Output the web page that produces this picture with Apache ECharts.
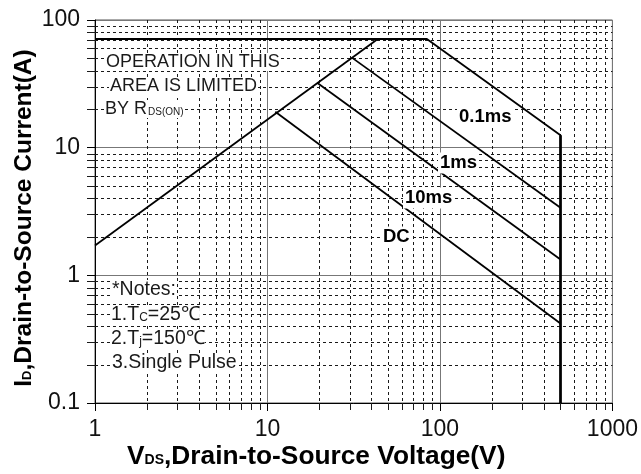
<!DOCTYPE html>
<html><head><meta charset="utf-8">
<script src="https://cdn.jsdelivr.net/npm/echarts@6/dist/echarts.min.js"></script>
<style>html,body{margin:0;padding:0;background:#fff}#c{width:641px;height:474px}</style>
</head><body><div id="c"></div>
<script>
// ---- data ----
const xTickValues = [1, 10, 100, 1000];
const xTickLabels = ['1', '10', '100', '1000'];
const yTickValues = [0.1, 1, 10, 100];
const yTickLabels = ['0.1', '1', '10', '100'];
const minorMultipliers = [2, 3, 4, 5, 6, 7, 8, 9];
const limitLine = [[1, 71], [84, 71], [500, 12.5], [500, 0.1]];   // Id limit + 0.1ms + Vds limit
const rdsLine = [[1, 1.71], [43.6, 71]];
const line1ms = [[31, 50.5], [500, 3.38]];
const line10ms = [[19.4, 32.2], [500, 1.33]];
const lineDC = [[11.1, 19.1], [500, 0.42]];
const vdsLimit = [[500, 12.5], [500, 0.1]];

const FONT = '"Liberation Sans", Arial, sans-serif';

function minorValues(ticks) {
  const out = [];
  for (let i = 0; i < ticks.length - 1; i++) {
    minorMultipliers.forEach(m => out.push(ticks[i] * m));
  }
  return out;
}
const xMinor = minorValues(xTickValues);
const yMinor = minorValues(yTickValues);

function px(v) { return Math.round(v) + 0.5; }

function renderMinor(params, api) {
  const xL = api.coord([xTickValues[0], 1])[0];
  const xR = api.coord([xTickValues[xTickValues.length - 1], 1])[0];
  const yB = api.coord([1, yTickValues[0]])[1];
  const yT = api.coord([1, yTickValues[yTickValues.length - 1]])[1];
  const ch = [];
  const dash = { stroke: '#1a1a1a', lineWidth: 1, lineDash: [3, 3] };
  const tk = { stroke: '#1a1a1a', lineWidth: 1 };
  xMinor.forEach(v => {
    const x = px(api.coord([v, 1])[0]);
    ch.push({ type: 'line', shape: { x1: x, y1: yT, x2: x, y2: yB }, style: dash });
    ch.push({ type: 'line', shape: { x1: x, y1: yB, x2: x, y2: yB + 7 }, style: tk });
  });
  yMinor.forEach(v => {
    const y = px(api.coord([1, v])[1]);
    ch.push({ type: 'line', shape: { x1: xL, y1: y, x2: xR, y2: y }, style: dash });
    ch.push({ type: 'line', shape: { x1: xL - 8, y1: y, x2: xL, y2: y }, style: tk });
  });
  return { type: 'group', children: ch };
}

function lineSeries(data, w) {
  return {
    type: 'line', data: data, showSymbol: false, symbol: 'none', z: 5,
    lineStyle: { color: '#000', width: w || 1.8 }, animation: false, clip: false
  };
}

const chart = echarts.init(document.getElementById('c'), null, { renderer: 'canvas' });
const msStyle = { font: 'bold 18.5px ' + FONT, fill: '#000', backgroundColor: '#fff', padding: [1, 2] };
const opStyle = { font: '18px ' + FONT, fill: '#1a1a1a', backgroundColor: '#fff', padding: [0, 1] };
const noteStyle = { font: '19.5px ' + FONT, fill: '#1a1a1a', backgroundColor: '#fff', padding: [0, 1] };

chart.setOption({
  animation: false,
  backgroundColor: '#fff',
  grid: { left: 95, right: 25, top: 20, bottom: 71, show: true, borderColor: '#555', borderWidth: 1, containLabel: false },
  xAxis: {
    type: 'log', logBase: 10, min: 1, max: 1000,
    axisLine: { show: true, onZero: false, lineStyle: { color: '#000', width: 1 } },
    axisTick: { show: true, inside: false, length: 8, lineStyle: { color: '#000' } },
    axisLabel: { margin: 15, color: '#111', fontSize: 23, fontFamily: FONT,
      formatter: v => { const i = xTickValues.findIndex(t => Math.abs(t - v) / t < 1e-6); return i >= 0 ? xTickLabels[i] : ''; } },
    splitLine: { show: true, lineStyle: { color: '#777', width: 1 } }
  },
  yAxis: {
    type: 'log', logBase: 10, min: 0.1, max: 100,
    axisLine: { show: true, onZero: false, lineStyle: { color: '#000', width: 1 } },
    axisTick: { show: true, inside: false, length: 8, lineStyle: { color: '#000' } },
    axisLabel: { margin: 15, color: '#111', fontSize: 23, fontFamily: FONT,
      formatter: v => { const i = yTickValues.findIndex(t => Math.abs(t - v) / t < 1e-6); return i >= 0 ? yTickLabels[i] : ''; } },
    splitLine: { show: true, lineStyle: { color: '#777', width: 1 } }
  },
  series: [
    { type: 'custom', renderItem: renderMinor, data: [[1, 1]], z: 1, silent: true, clip: false, animation: false },
    lineSeries(limitLine, 1.8),
    lineSeries(rdsLine, 1.8),
    lineSeries(line1ms, 1.8),
    lineSeries(line10ms, 1.8),
    lineSeries(lineDC, 1.8),
    lineSeries(vdsLimit, 2.6)
  ],
  graphic: [
    { type: 'text', x: 105, y: 62, z: 10, style: Object.assign({ text: 'OPERATION IN THIS', verticalAlign: 'middle' }, opStyle) },
    { type: 'text', x: 109, y: 86, z: 10, style: Object.assign({ text: 'AREA IS LIMITED', verticalAlign: 'middle' }, opStyle) },
    { type: 'text', x: 105, y: 109, z: 10, style: {
        text: '{n|BY R}{s|DS(ON)}', verticalAlign: 'middle', backgroundColor: '#fff',
        rich: { n: { font: '18px ' + FONT, fill: '#1a1a1a' }, s: { font: '10px ' + FONT, fill: '#1a1a1a', padding: [6, 0, 0, 1] } } } },
    { type: 'text', x: 457, y: 117, z: 10, style: Object.assign({ text: '0.1ms', verticalAlign: 'middle' }, msStyle) },
    { type: 'text', x: 438, y: 163, z: 10, style: Object.assign({ text: '1ms', verticalAlign: 'middle' }, msStyle) },
    { type: 'text', x: 403, y: 198, z: 10, style: Object.assign({ text: '10ms', verticalAlign: 'middle' }, msStyle) },
    { type: 'text', x: 381, y: 237, z: 10, style: Object.assign({ text: 'DC', verticalAlign: 'middle' }, msStyle) },
    { type: 'text', x: 111, y: 290, z: 10, style: Object.assign({ text: '*Notes:', verticalAlign: 'middle' }, noteStyle) },
    { type: 'text', x: 111, y: 315, z: 10, style: {
        text: '{n|1.T}{s|C}{n|=25℃}', verticalAlign: 'middle', backgroundColor: '#fff',
        rich: { n: { font: '19.5px ' + FONT, fill: '#1a1a1a' }, s: { font: '12px ' + FONT, fill: '#1a1a1a', padding: [6, 0, 0, 0] } } } },
    { type: 'text', x: 111, y: 339, z: 10, style: {
        text: '{n|2.T}{s|j}{n|=150℃}', verticalAlign: 'middle', backgroundColor: '#fff',
        rich: { n: { font: '19.5px ' + FONT, fill: '#1a1a1a' }, s: { font: '12px ' + FONT, fill: '#1a1a1a', padding: [6, 0, 0, 0] } } } },
    { type: 'text', x: 111, y: 363, z: 10, style: Object.assign({ text: '3.Single Pulse', verticalAlign: 'middle' }, noteStyle) },
    { type: 'text', x: 127, y: 457, z: 10, style: {
        text: '{b|V}{s|DS}{b|,Drain-to-Source Voltage(V)}', verticalAlign: 'middle',
        rich: { b: { font: 'bold 26.3px ' + FONT, fill: '#000' }, s: { font: 'bold 14px ' + FONT, fill: '#000', padding: [6, 0, 0, 0] } } } },
    { type: 'text', x: 24, y: 218, rotation: Math.PI / 2, z: 10, style: {
        text: '{b|I}{s|D}{b|,Drain-to-Source Current(A)}', align: 'center', verticalAlign: 'middle',
        rich: { b: { font: 'bold 24.5px ' + FONT, fill: '#000' }, s: { font: 'bold 13px ' + FONT, fill: '#000', padding: [6, 0, 0, 0] } } } }
  ]
});
</script>
</body></html>
